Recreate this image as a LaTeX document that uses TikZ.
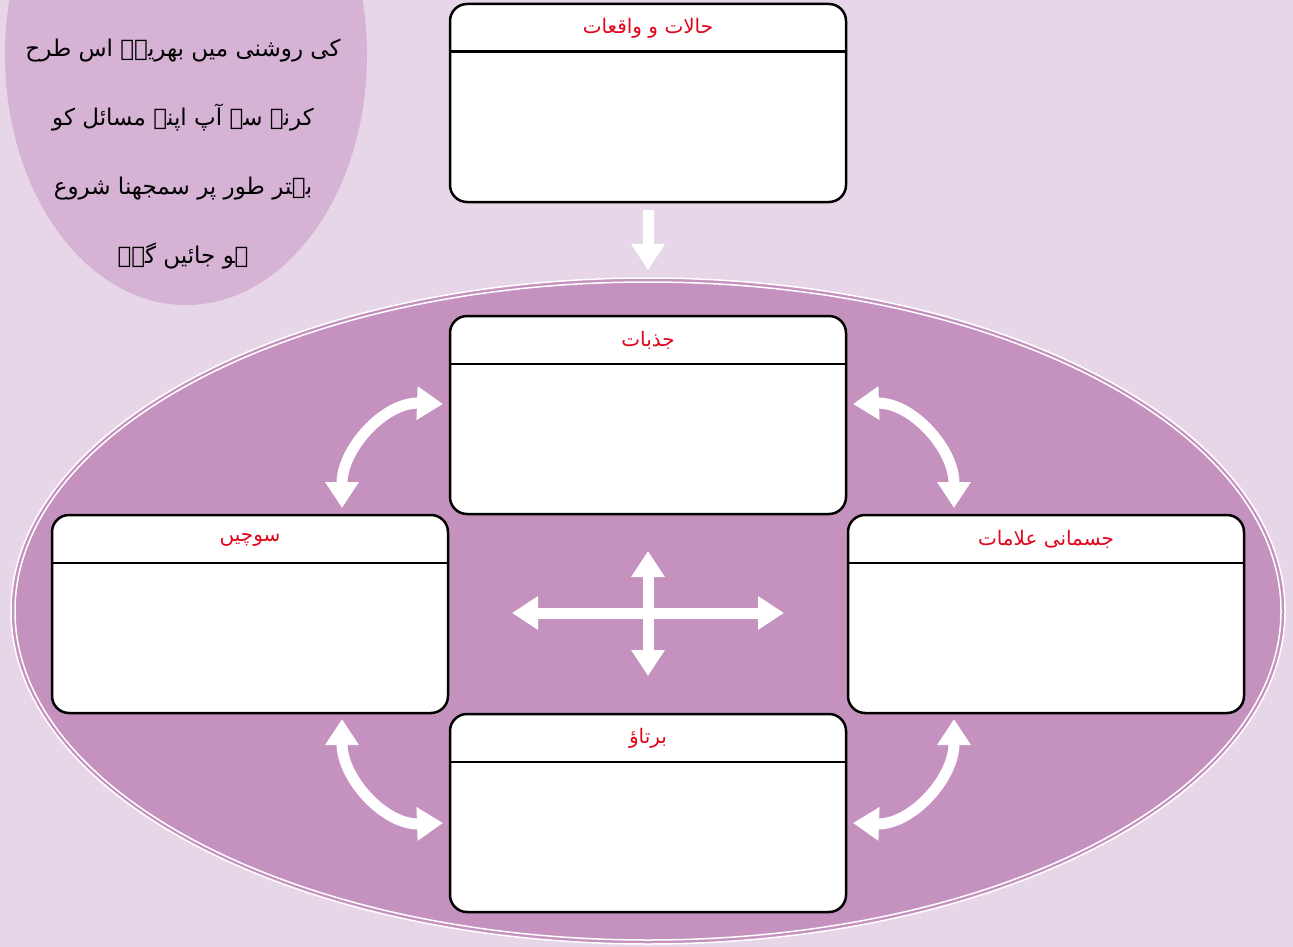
\documentclass[tikz,border=0pt]{standalone}
\usepackage{fontspec}
\usetikzlibrary{arrows.meta,calc}
\TeXXeTstate=1
\newfontfamily\urdu[Script=Arabic]{DejaVu Sans}

\definecolor{bgpage}{HTML}{E7D5E8}
\definecolor{notefill}{HTML}{D6B3D4}
\definecolor{ringfill}{HTML}{C591BE}
\definecolor{titlered}{HTML}{E3051B}

\tikzset{
  panel/.style={draw=black, line width=2.5pt, fill=white, rounded corners=17pt,
    minimum width=396pt, minimum height=198pt, inner sep=0pt},
  paneltitle/.style={text=titlered, font=\urdu\fontsize{20}{24}\selectfont, inner sep=0pt},
  biflow/.style={draw=white, line width=11pt,
    arrows={Triangle[length=26pt, width=32pt]-Triangle[length=26pt, width=32pt]}},
  flow/.style={draw=white, line width=11pt, arrows={-Triangle[length=26pt, width=32pt]}},
}

% a white panel with a ruled header and a red title
\newcommand{\panelbox}[3]{%
  \node[panel] (#1) at (#2) {};
  \draw[line width=2.5pt] ([yshift=-49pt]#1.north west) -- ([yshift=-49pt]#1.north east);
  \node[paneltitle] (#1-title) at ([yshift=-26pt]#1.north) {#3};
}

\begin{document}
\begin{tikzpicture}[x=1pt, y=-1pt]
  \useasboundingbox (0,0) rectangle (1293,947);
  \clip (0,0) rectangle (1293,947);
  \fill[bgpage] (0,0) rectangle (1293,947);

  % note bubble in the upper left corner
  \fill[notefill] (186,55) ellipse [x radius=181, y radius=250];
  \node[font=\urdu\fontsize{23}{69}\selectfont, align=center, text=black] (note) at (183,154)
    {\beginR کی روشنی میں بھریے۔ اس طرح\endR\\
     \beginR کرنے سے آپ اپنے مسائل کو\endR\\
     \beginR بہتر طور پر سمجھنا شروع\endR\\
     \beginR ہو جائیں گے۔\endR};

  % large ring holding the four linked panels
  \fill[ringfill] (648,611) ellipse [x radius=637, y radius=333];
  \draw[white, line width=1.5pt] (648,611) ellipse [x radius=637, y radius=333];
  \draw[white, line width=1.5pt] (648,611) ellipse [x radius=633, y radius=329];

  % panels
  \panelbox{events}{648,103}{\beginR حالات و واقعات\endR}
  \panelbox{feel}{648,415}{\beginR جذبات\endR}
  \panelbox{think}{250,614}{\beginR سوچیں\endR}
  \panelbox{body}{1046,614}{\beginR جسمانی علامات\endR}
  \panelbox{act}{648,813}{\beginR برتاؤ\endR}

  % arrow from events into the ring
  \coordinate (down-a) at ([yshift=-7pt]events.south);
  \coordinate (down-b) at (648,270);
  \draw[flow] (down-a) -- (down-b);

  % central cross
  \coordinate (cross-w) at (512,613);
  \coordinate (cross-e) at (784,613);
  \coordinate (cross-n) at (648,551);
  \coordinate (cross-s) at (648,676);
  \draw[biflow] (cross-w) -- (cross-e);
  \draw[biflow] (cross-n) -- (cross-s);

  % curved two-way links between neighbouring panels
  \coordinate (tl-a) at (443,404);
  \coordinate (tl-b) at (342,508);
  \coordinate (tr-a) at (853,404);
  \coordinate (tr-b) at (954,508);
  \coordinate (bl-a) at (342,719);
  \coordinate (bl-b) at (443,823);
  \coordinate (br-a) at (954,719);
  \coordinate (br-b) at (853,823);
  \draw[biflow] (tl-a) .. controls (385,402) and (342,448) .. (tl-b);
  \draw[biflow] (tr-a) .. controls (911,402) and (954,448) .. (tr-b);
  \draw[biflow] (bl-a) .. controls (342,779) and (385,825) .. (bl-b);
  \draw[biflow] (br-a) .. controls (954,779) and (911,825) .. (br-b);
\end{tikzpicture}
\end{document}
